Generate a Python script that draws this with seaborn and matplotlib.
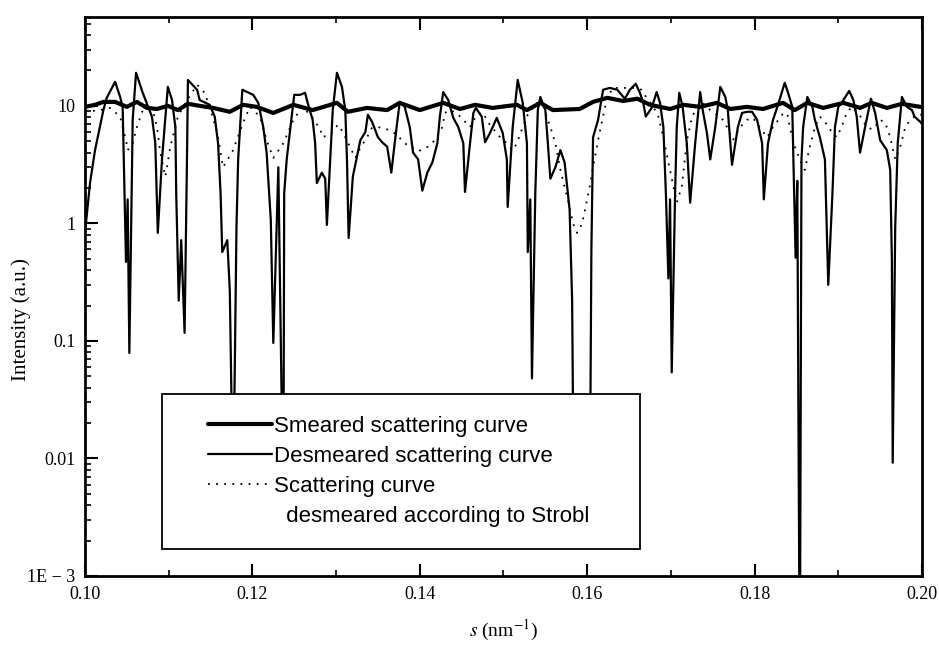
import numpy as np
import matplotlib
matplotlib.use("Agg")
import matplotlib.pyplot as plt
from matplotlib.lines import Line2D
from matplotlib.legend_handler import HandlerLine2D
from matplotlib.ticker import FixedLocator, LogLocator, NullFormatter
import seaborn as sns

# =====================================================
# DATA
# =====================================================

s_smeared = [0.1000, 0.1012, 0.1022, 0.1036, 0.1050, 0.1062, 0.1074, 0.1086, 0.1099, 0.1111,
             0.1123, 0.1137, 0.1153, 0.1173, 0.1189, 0.1205, 0.1225, 0.1249, 0.1272, 0.1301,
             0.1314, 0.1337, 0.1361, 0.1376, 0.1400, 0.1428, 0.1448, 0.1466, 0.1487, 0.1516,
             0.1528, 0.1544, 0.1559, 0.1591, 0.1607, 0.1624, 0.1643, 0.1660, 0.1675, 0.1699,
             0.1715, 0.1735, 0.1755, 0.1771, 0.1791, 0.1810, 0.1834, 0.1848, 0.1863, 0.1882,
             0.1906, 0.1926, 0.1940, 0.1958, 0.1976, 0.1998]
i_smeared = [9.8, 10.2, 10.8, 10.8, 9.8, 10.8, 9.6, 9.4, 10.0, 9.2,
             10.4, 10.0, 9.6, 8.9, 10.2, 9.8, 8.7, 10.2, 9.2, 10.6,
             8.9, 9.6, 9.2, 10.6, 9.2, 10.6, 9.4, 10.2, 9.6, 10.2,
             9.2, 10.6, 9.2, 9.4, 10.8, 11.7, 11.0, 11.5, 10.2, 9.4,
             10.2, 9.8, 10.6, 9.4, 9.8, 9.4, 10.6, 9.2, 10.6, 9.6,
             10.6, 9.6, 10.6, 9.6, 10.4, 9.8]

s_desmeared = [0.1000, 0.1006, 0.1012, 0.1022, 0.1026, 0.1036, 0.1042, 0.1045, 0.1049, 0.1051,
               0.1053, 0.1057, 0.1061, 0.1069, 0.1080, 0.1084, 0.1087, 0.1092, 0.1097, 0.1099,
               0.1104, 0.1108, 0.1109, 0.1112, 0.1115, 0.1119, 0.1122, 0.1123, 0.1134, 0.1137,
               0.1149, 0.1155, 0.1159, 0.1162, 0.1164, 0.1170, 0.1173, 0.1177, 0.1181, 0.1183,
               0.1188, 0.1201, 0.1207, 0.1213, 0.1217, 0.1222, 0.1225, 0.1231, 0.1237, 0.1238,
               0.1241, 0.1250, 0.1257, 0.1263, 0.1266, 0.1272, 0.1275, 0.1277, 0.1283, 0.1287,
               0.1289, 0.1293, 0.1296, 0.1301, 0.1307, 0.1311, 0.1313, 0.1315, 0.1320, 0.1325,
               0.1329, 0.1335, 0.1338, 0.1343, 0.1350, 0.1355, 0.1361, 0.1366, 0.1370, 0.1376,
               0.1382, 0.1388, 0.1392, 0.1398, 0.1403, 0.1409, 0.1415, 0.1421, 0.1424, 0.1428,
               0.1434, 0.1440, 0.1446, 0.1452, 0.1454, 0.1460, 0.1464, 0.1467, 0.1474, 0.1478,
               0.1484, 0.1492, 0.1499, 0.1504, 0.1505, 0.1511, 0.1517, 0.1523, 0.1528, 0.1529,
               0.1532, 0.1534, 0.1538, 0.1541, 0.1544, 0.1550, 0.1553, 0.1556, 0.1562, 0.1568,
               0.1573, 0.1579, 0.1582, 0.1584, 0.1594, 0.1603, 0.1605, 0.1607, 0.1613, 0.1619,
               0.1627, 0.1636, 0.1639, 0.1645, 0.1651, 0.1658, 0.1663, 0.1667, 0.1670, 0.1677,
               0.1683, 0.1687, 0.1691, 0.1694, 0.1697, 0.1699, 0.1701, 0.1705, 0.1707, 0.1710,
               0.1714, 0.1719, 0.1723, 0.1729, 0.1735, 0.1738, 0.1743, 0.1747, 0.1753, 0.1759,
               0.1765, 0.1768, 0.1773, 0.1780, 0.1785, 0.1791, 0.1797, 0.1803, 0.1809, 0.1811,
               0.1816, 0.1822, 0.1828, 0.1836, 0.1840, 0.1845, 0.1846, 0.1849, 0.1851, 0.1854,
               0.1856, 0.1858, 0.1863, 0.1869, 0.1872, 0.1878, 0.1884, 0.1888, 0.1893, 0.1896,
               0.1900, 0.1904, 0.1913, 0.1918, 0.1922, 0.1926, 0.1932, 0.1939, 0.1944, 0.1950,
               0.1958, 0.1962, 0.1964, 0.1965, 0.1968, 0.1971, 0.1976, 0.1982, 0.1988, 0.1991,
               0.1998, 0.2000]
i_desmeared = [0.83, 2.2, 4.2, 9.2, 11.7, 16.0, 11.9, 9.8, 0.47, 1.6,
               0.079, 7.6, 19.1, 12.9, 8.1, 4.8, 0.83, 3.5, 9.8, 14.5,
               11.2, 6.6, 1.8, 0.22, 0.72, 0.117, 4.2, 16.6, 13.7, 11.2,
               10.2, 8.1, 4.8, 1.8, 0.57, 0.72, 0.27, 0.004, 0.93, 3.5,
               13.7, 12.4, 10.6, 6.6, 4.0, 1.07, 0.096, 3.0, 0.003, 1.8,
               3.5, 12.4, 12.4, 12.9, 10.6, 7.6, 4.8, 2.2, 2.7, 2.4,
               0.97, 3.5, 9.2, 19.1, 14.5, 9.2, 3.5, 0.75, 2.5, 3.7,
               5.1, 6.0, 8.4, 7.3, 5.4, 4.9, 4.5, 2.7, 4.8, 10.8,
               9.8, 6.6, 4.0, 3.5, 1.9, 2.7, 3.3, 4.8, 8.1, 13.1,
               11.2, 7.9, 6.6, 4.8, 1.85, 4.8, 8.7, 9.6, 8.1, 4.9,
               5.9, 7.9, 5.9, 3.5, 1.38, 6.6, 16.6, 10.6, 4.8, 0.57,
               1.6, 0.048, 1.8, 9.2, 11.9, 9.2, 4.8, 2.4, 3.0, 4.2,
               3.3, 1.3, 0.22, 0.004, 0.015, 0.003, 0.59, 5.4, 7.6, 13.7,
               14.2, 13.7, 12.9, 11.5, 13.7, 15.4, 12.9, 10.6, 8.1, 9.6,
               13.1, 10.6, 6.6, 1.8, 0.34, 1.6, 0.054, 1.8, 6.6, 12.9,
               9.8, 4.8, 1.5, 4.8, 13.1, 9.2, 5.9, 3.5, 6.6, 14.5,
               11.9, 9.2, 3.15, 6.6, 8.7, 8.9, 8.9, 7.6, 4.8, 1.6,
               4.8, 7.6, 10.2, 15.7, 12.9, 9.8, 4.5, 0.51, 2.3, 0.0001,
               3.5, 6.6, 11.9, 9.8, 7.6, 5.4, 3.5, 0.30, 1.8, 6.6,
               9.8, 10.6, 13.4, 11.2, 8.1, 4.0, 6.6, 11.5, 8.7, 5.1,
               4.2, 2.85, 0.49, 0.0092, 0.93, 4.8, 11.9, 9.8, 9.2, 8.1,
               7.3, 7.0]

s_strobl = [0.1000, 0.1018, 0.1030, 0.1042, 0.1045, 0.1049, 0.1051, 0.1057, 0.1062, 0.1069,
            0.1075, 0.1081, 0.1086, 0.1090, 0.1096, 0.1102, 0.1111, 0.1122, 0.1134, 0.1143,
            0.1149, 0.1158, 0.1165, 0.1177, 0.1189, 0.1197, 0.1209, 0.1217, 0.1225, 0.1237,
            0.1249, 0.1260, 0.1272, 0.1281, 0.1284, 0.1295, 0.1302, 0.1308, 0.1317, 0.1323,
            0.1329, 0.1337, 0.1343, 0.1350, 0.1361, 0.1373, 0.1380, 0.1391, 0.1398, 0.1410,
            0.1418, 0.1427, 0.1430, 0.1436, 0.1444, 0.1452, 0.1460, 0.1468, 0.1476, 0.1481,
            0.1496, 0.1504, 0.1511, 0.1516, 0.1523, 0.1529, 0.1540, 0.1547, 0.1556, 0.1562,
            0.1568, 0.1573, 0.1579, 0.1583, 0.1588, 0.1594, 0.1600, 0.1603, 0.1607, 0.1613,
            0.1618, 0.1624, 0.1631, 0.1643, 0.1655, 0.1665, 0.1671, 0.1679, 0.1685, 0.1691,
            0.1697, 0.1703, 0.1707, 0.1713, 0.1717, 0.1720, 0.1725, 0.1731, 0.1738, 0.1747,
            0.1755, 0.1762, 0.1767, 0.1774, 0.1783, 0.1791, 0.1798, 0.1806, 0.1815, 0.1822,
            0.1833, 0.1839, 0.1842, 0.1848, 0.1854, 0.1860, 0.1866, 0.1872, 0.1878, 0.1884,
            0.1890, 0.1898, 0.1904, 0.1910, 0.1916, 0.1924, 0.1934, 0.1941, 0.1950, 0.1956,
            0.1962, 0.1968, 0.1974, 0.1980, 0.1986, 0.1994, 0.2000]
i_strobl = [8.9, 9.2, 9.6, 8.1, 6.6, 5.1, 4.2, 4.8, 6.6, 9.2,
            10.6, 9.2, 6.6, 4.0, 2.5, 4.5, 8.1, 11.2, 15.1, 12.9,
            9.8, 5.9, 3.0, 4.2, 7.2, 9.8, 8.1, 5.1, 3.6, 4.8,
            7.6, 9.8, 7.9, 6.3, 5.4, 5.9, 6.9, 6.0, 4.4, 3.6,
            4.4, 5.4, 6.5, 6.6, 6.3, 5.7, 4.9, 4.4, 4.1, 4.5,
            5.1, 6.6, 8.7, 9.2, 8.7, 7.6, 6.6, 8.4, 8.7, 7.3,
            5.4, 4.8, 4.2, 4.8, 6.6, 8.4, 10.6, 10.2, 6.6, 4.8,
            2.85, 2.05, 1.38, 1.0, 0.83, 1.0, 1.6, 2.05, 3.0, 5.1,
            7.6, 11.9, 14.2, 14.2, 14.2, 13.7, 11.7, 9.8, 8.1, 5.4,
            3.3, 2.05, 1.5, 2.05, 3.7, 5.4, 7.9, 9.8, 10.6, 9.2,
            8.4, 7.6, 6.6, 5.1, 6.6, 7.6, 7.9, 6.6, 5.4, 6.6,
            8.4, 8.7, 6.6, 4.5, 3.5, 2.85, 4.5, 6.6, 8.1, 7.3,
            6.3, 5.4, 6.6, 8.7, 9.8, 8.7, 6.6, 6.3, 7.6, 7.2,
            5.4, 3.5, 4.5, 6.6, 7.6, 8.4, 8.4]

legend_labels = ["Smeared scattering curve",
                 "Desmeared scattering curve",
                 "Scattering curve",
                 "  desmeared according to Strobl"]

x_ticks = [0.10, 0.12, 0.14, 0.16, 0.18, 0.20]
x_tick_labels = ["0.10", "0.12", "0.14", "0.16", "0.18", "0.20"]
x_minor = [0.11, 0.13, 0.15, 0.17, 0.19]
y_ticks = [1e-3, 1e-2, 1e-1, 1, 10]
y_tick_labels = ["1E \u2212 3", "0.01", "0.1", "1", "10"]

# =====================================================
# STYLE
# =====================================================

sns.set_theme(style="ticks")
plt.rcParams["font.family"] = ["Liberation Serif", "DejaVu Serif"]
plt.rcParams["mathtext.fontset"] = "stix"
plt.rcParams["axes.edgecolor"] = "black"
plt.rcParams["text.color"] = "black"
plt.rcParams["axes.labelcolor"] = "black"

fig = plt.figure(figsize=(9.39, 6.46), dpi=100)
ax = fig.add_axes([0.0905, 0.1084, 0.8914, 0.8653])
ax.set_yscale("log")

# =====================================================
# CURVES
# =====================================================

sns.lineplot(x=s_smeared, y=i_smeared, ax=ax, color="black",
             linewidth=3.0, estimator=None, sort=False)
sns.lineplot(x=s_desmeared, y=i_desmeared, ax=ax, color="black",
             linewidth=1.6, estimator=None, sort=False)
sns.lineplot(x=s_strobl, y=i_strobl, ax=ax, color="black",
             linewidth=1.3, linestyle=(0, (1, 3.5)), estimator=None, sort=False)

# =====================================================
# AXES
# =====================================================

ax.set_xlim(0.10, 0.20)
ax.set_ylim(1e-3, 57)

ax.xaxis.set_major_locator(FixedLocator(x_ticks))
ax.set_xticklabels(x_tick_labels)
ax.xaxis.set_minor_locator(FixedLocator(x_minor))

ax.yaxis.set_major_locator(FixedLocator(y_ticks))
ax.set_yticklabels(y_tick_labels)
ax.yaxis.set_minor_locator(LogLocator(base=10, subs=np.arange(2, 10)))
ax.yaxis.set_minor_formatter(NullFormatter())

ax.tick_params(which="both", direction="in", top=True, right=False,
               color="black", labelcolor="black")
ax.tick_params(which="major", length=9, width=1.5, labelsize=13, pad=7)
ax.tick_params(which="minor", length=4.5, width=1.2)

for sp in ax.spines.values():
    sp.set_linewidth(2.0)
    sp.set_color("black")

ax.set_xlabel(r"$s$ (nm$^{-1}$)", fontsize=14)
ax.xaxis.set_label_coords(0.5, -0.075)
ax.set_ylabel("Intensity (a.u.)", fontsize=15)
ax.yaxis.set_label_coords(-0.064, 0.458)

# =====================================================
# LEGEND
# =====================================================

h_sm, h_de, h_st = ax.lines[:3]
blank = Line2D([], [], linestyle="none")
handles = [h_sm, h_de, h_st, blank]
hmap = {h: HandlerLine2D(xpad=1.08) for h in handles}

leg = ax.legend(handles, legend_labels, handler_map=hmap,
                loc="upper left", bbox_to_anchor=(0.092, 0.059, 0.571, 0.2666),
                mode="expand", borderaxespad=0, borderpad=1.0,
                labelspacing=0.4, handlelength=3.96, handletextpad=0.1,
                frameon=True, fancybox=False, framealpha=1,
                edgecolor="black", prop={"family": "Liberation Sans", "size": 16})
leg.get_frame().set_linewidth(1.3)

fig.savefig("out.png", dpi=100, facecolor="white")
